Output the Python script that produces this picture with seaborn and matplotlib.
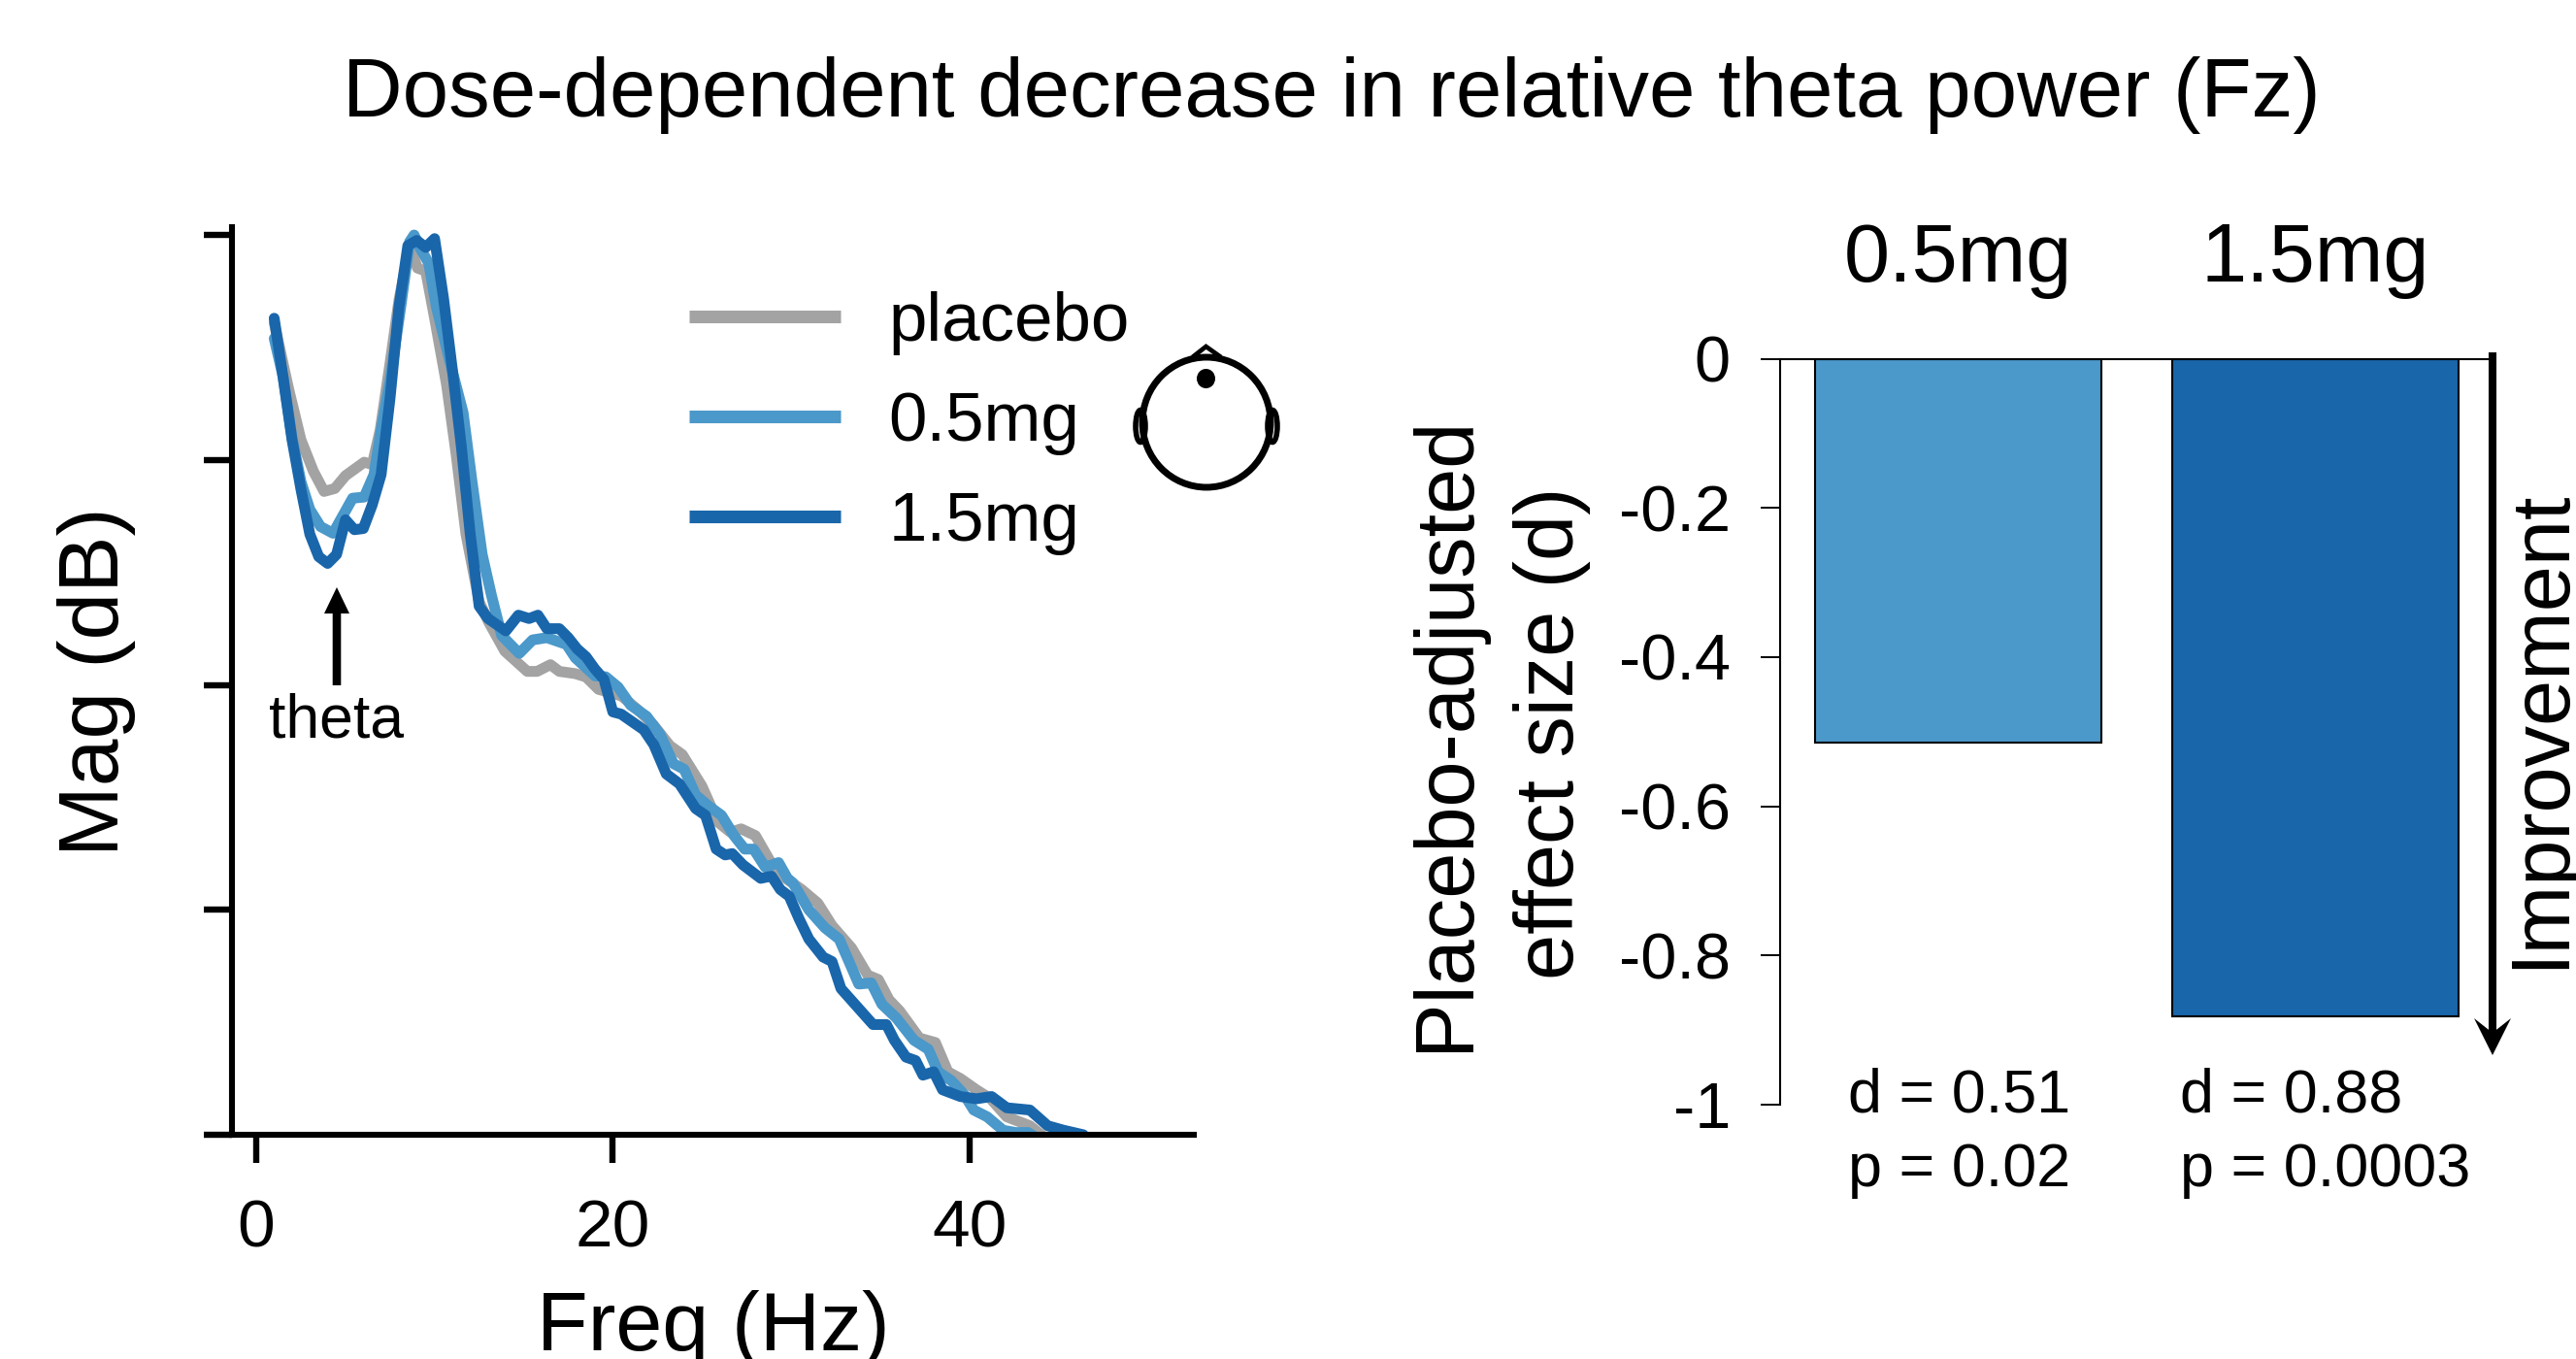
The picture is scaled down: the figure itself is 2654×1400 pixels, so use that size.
import pandas as pd
import seaborn as sns
import matplotlib.pyplot as plt
from matplotlib.lines import Line2D
from matplotlib.patches import Ellipse, Polygon

# spectra (Hz, dB relative to peak)
placebo_f = [1, 1.8, 2.5, 3.2, 3.8, 4.4, 5, 6.05, 6.5, 6.95, 7.5, 8, 8.6, 9.04, 9.5, 10, 10.67, 11.2, 11.76, 12.5,
             13.03, 13.94, 15.2, 15.75, 16.5, 17, 17.9, 18.5, 19.2, 19.9, 20.5, 21.4, 22.3, 23.2, 23.9, 25, 25.9,
             26.6, 27.2, 28, 28.8, 29.7, 30.6, 31.5, 32.3, 33.4, 34.3, 34.9, 35.5, 36.1, 37.2, 38.1, 38.8, 39.5,
             40.4, 41.2, 42.1, 43.4, 44.2]
placebo_db = [-3.9, -6.8, -9.1, -10.5, -11.4, -11.27, -10.7, -10.1, -10.2, -8.65, -5.7, -2.9, -0.47, -1.47, -1.6,
              -3.7, -6.65, -9.7, -13.3, -16.3, -17.2, -18.5, -19.4, -19.4, -19.1, -19.4, -19.5, -19.65, -20.2,
              -20.35, -20.5, -21.1, -21.8, -22.7, -23.1, -24.5, -26.1, -26.55, -26.4, -26.7, -27.8, -28.6, -29.1,
              -29.7, -30.7, -31.7, -32.9, -33.1, -34.0, -34.5, -35.7, -35.9, -37.2, -37.5, -38.0, -38.4, -39.2,
              -39.6, -40.1]

low_f = [1, 1.5, 2, 2.5, 3, 3.6, 4.3, 5.4, 6.05, 6.6, 7, 7.5, 8.1, 8.6, 8.85, 9.2, 9.67, 10.1, 10.85, 11.6, 12.1,
         12.67, 13.2, 13.76, 14.75, 15.5, 16.3, 17.4, 17.9, 19, 19.6, 20.3, 21, 21.9, 22.65, 23.4, 24, 24.65, 25.4,
         26.1, 26.8, 27.4, 27.9, 28.55, 29.3, 29.8, 30.1, 31, 31.9, 32.7, 33.8, 34.5, 35.1, 35.9, 36.9, 37.7, 38.25,
         39, 39.7, 40.25, 41, 41.9, 42.6, 43.3, 43.7]
low_db = [-4.6, -6.3, -9.0, -10.96, -12.2, -12.96, -13.26, -11.7, -11.65, -10.65, -8.65, -6.5, -3.2, -0.3, 0, -0.6,
          -1.25, -3.2, -5.6, -7.9, -10.96, -14.2, -16.05, -17.8, -18.6, -18.0, -17.9, -18.2, -18.8, -19.6, -19.64,
          -20.1, -20.9, -21.4, -22.2, -23.5, -23.75, -24.9, -25.4, -25.8, -26.7, -27.3, -27.3, -28.1, -27.9, -28.6,
          -28.8, -30.0, -30.8, -31.3, -33.3, -33.25, -34.2, -34.8, -35.8, -36.2, -37.2, -37.6, -38.2, -38.9, -39.2,
          -39.8, -39.9, -39.9, -40.1]

high_f = [1, 1.5, 2, 2.5, 3, 3.5, 4, 4.5, 5, 5.5, 6, 6.5, 7, 7.5, 8, 8.5, 9, 9.5, 10, 10.5, 11, 11.5, 12, 12.5, 13,
          14, 14.7, 15.3, 15.8, 16.3, 17, 17.5, 18, 18.5, 19, 19.5, 20, 20.47, 21.74, 22.3, 23, 23.74, 24.65, 25.2,
          25.8, 26.3, 26.7, 27.3, 28.3, 28.9, 29.4, 29.9, 30.45, 31, 31.8, 32.3, 32.8, 33.7, 34.6, 35.35, 35.8,
          36.45, 36.99, 37.4, 38, 38.5, 39.5, 40.4, 41.25, 42.1, 43.4, 44.4, 45.3, 46.4]
high_db = [-3.7, -6.33, -9.1, -11.3, -13.3, -14.3, -14.6, -14.2, -12.66, -13.1, -13.05, -12.0, -10.65, -7.26, -3.2,
           -0.47, -0.24, -0.55, -0.16, -2.8, -6.0, -9.4, -13.3, -16.5, -17.05, -17.6, -16.9, -17.05, -16.9, -17.5,
           -17.5, -17.9, -18.4, -18.75, -19.3, -19.75, -21.2, -21.3, -22.0, -22.66, -23.96, -24.4, -25.5, -25.8,
           -27.3, -27.56, -27.5, -28.0, -28.6, -28.5, -29.1, -29.4, -30.4, -31.3, -32.1, -32.3, -33.5, -34.3, -35.1,
           -35.1, -35.8, -36.55, -36.7, -37.35, -37.2, -38.0, -38.3, -38.4, -38.3, -38.8, -38.9, -39.6, -39.8, -40.0]

doses = ["0.5mg", "1.5mg"]
effect = [-0.515, -0.882]
stats = [("d = 0.51", "p = 0.02"), ("d = 0.88", "p = 0.0003")]
groups = ["placebo", "0.5mg", "1.5mg"]
colors = {"placebo": "#a3a3a3", "0.5mg": "#4b98ca", "1.5mg": "#1a66ab"}

sns.set_theme(style="ticks")
plt.rcParams["font.family"] = ["Liberation Sans", "DejaVu Sans"]

W, H = 2654, 1400
fig = plt.figure(figsize=(W / 100, H / 100), dpi=100)


def place(left, top, right, bottom):
    # axes box from pixel edges
    return fig.add_axes([left / W, 1 - bottom / H, (right - left) / W, (bottom - top) / H])


# overlay in pixels for the arrows, head and notes
overlay = fig.add_axes([0, 0, 1, 1], zorder=5)
overlay.set_xlim(0, W)
overlay.set_ylim(H, 0)
overlay.set_axis_off()
overlay.patch.set_alpha(0)

fig.suptitle("Dose-dependent decrease in relative theta power (Fz)", x=1372 / W, y=1 - 120 / H,
             va="baseline", ha="center", fontsize=61.4, color="black")

# left panel, spectra
ax1 = place(238.6, 234, 1230, 1169)
spectra = pd.concat([
    pd.DataFrame({"Freq": placebo_f, "Mag": placebo_db, "group": "placebo"}),
    pd.DataFrame({"Freq": low_f, "Mag": low_db, "group": "0.5mg"}),
    pd.DataFrame({"Freq": high_f, "Mag": high_db, "group": "1.5mg"}),
])
sns.lineplot(data=spectra, x="Freq", y="Mag", hue="group", hue_order=groups, palette=colors, estimator=None,
             sort=False, linewidth=8, legend=False, ax=ax1)
ax1.set_xlim(-1.39, 52.6)
ax1.set_ylim(-40, 0.35)
ax1.set_xticks([0, 20, 40])
ax1.set_yticks([-40, -30, -20, -10, 0])
ax1.set_yticklabels([])
sns.despine(ax=ax1)
for side in ["left", "bottom"]:
    ax1.spines[side].set_linewidth(4.4)
    ax1.spines[side].set_color("black")
ax1.tick_params(axis="both", length=21, width=4.6, color="black", labelsize=50, pad=26, labelcolor="black")
ax1.set_xlabel("Freq (Hz)", fontsize=62, va="baseline", color="black")
ax1.xaxis.set_label_coords(735, 1391, transform=overlay.transData)
ax1.set_ylabel("Mag (dB)", fontsize=63, va="baseline", color="black", rotation_mode="anchor")
ax1.yaxis.set_label_coords(122, 702, transform=overlay.transData)

handles = [Line2D([], [], color=colors[g], lw=9.4, solid_capstyle="butt") for g in groups]
ax1.legend(handles, groups, loc="upper left", bbox_to_anchor=(710 / W, 1 - 300 / H), bbox_transform=fig.transFigure,
           frameon=False, fontsize=51, handlelength=2.2, handletextpad=0.7, labelspacing=0.52, borderpad=0,
           borderaxespad=0, labelcolor="black")

overlay.arrow(347, 706, 0, -101, width=8.6, head_width=26, head_length=27, length_includes_head=True,
              color="black", linewidth=0)
overlay.text(346, 760, "theta", fontsize=45, ha="center", va="baseline", color="black")

# small head with Fz
overlay.add_patch(Ellipse((1243, 435), 132, 134, fill=False, ec="black", lw=5))
overlay.add_patch(Ellipse((1242.5, 390), 19, 20, fc="black", ec="none"))
overlay.add_patch(Polygon([(1228.5, 368), (1242.5, 357), (1258, 368)], closed=False, fill=False, ec="black", lw=3.4))
overlay.add_patch(Ellipse((1175, 439), 10, 33, fill=False, ec="black", lw=4))
overlay.add_patch(Ellipse((1311, 439), 10, 33, fill=False, ec="black", lw=4))

# right panel, effect sizes
ax2 = place(1833.5, 369.5, 2566, 1138)
sns.barplot(x=doses, y=effect, hue=doses, palette=[colors["0.5mg"], colors["1.5mg"]], saturation=1, width=0.8,
            edgecolor="black", linewidth=1.5, legend=False, ax=ax2)
ax2.set_xlim(-0.5, 1.49)
ax2.set_ylim(-1, 0)
ax2.set_yticks([0, -0.2, -0.4, -0.6, -0.8, -1])
ax2.set_yticklabels(["0", "-0.2", "-0.4", "-0.6", "-0.8", "-1"])
ax2.xaxis.tick_top()
ax2.tick_params(axis="x", length=0, labelsize=61, pad=44, labelcolor="black")
ax2.tick_params(axis="y", length=14.4, width=1.4, color="black", labelsize=48, pad=22, labelcolor="black")
for side in ["right", "bottom"]:
    ax2.spines[side].set_visible(False)
for side in ["left", "top"]:
    ax2.spines[side].set_linewidth(1.5)
    ax2.spines[side].set_color("black")
ax2.set_ylabel("Placebo-adjusted\neffect size (d)", fontsize=61, va="baseline", rotation_mode="anchor",
               multialignment="center", color="black", linespacing=1.46)
ax2.yaxis.set_label_coords(1592, 755, transform=overlay.transData)

for left, (d_txt, p_txt) in zip([1904, 2246], stats):
    overlay.text(left, 1146, d_txt, fontsize=45.3, va="baseline", color="black")
    overlay.text(left, 1222, p_txt, fontsize=45.3, va="baseline", color="black")

overlay.plot([2568, 2568], [363, 1070], color="black", lw=5.8, solid_capstyle="butt")
overlay.add_patch(Polygon([(2568, 1087), (2549, 1049), (2568, 1064), (2587, 1049)], fc="black", ec="none"))
overlay.text(2640, 751, "Improvement", fontsize=61, rotation=90, rotation_mode="anchor", ha="center", va="baseline",
             color="black")

fig.savefig("out.png", dpi=100)
